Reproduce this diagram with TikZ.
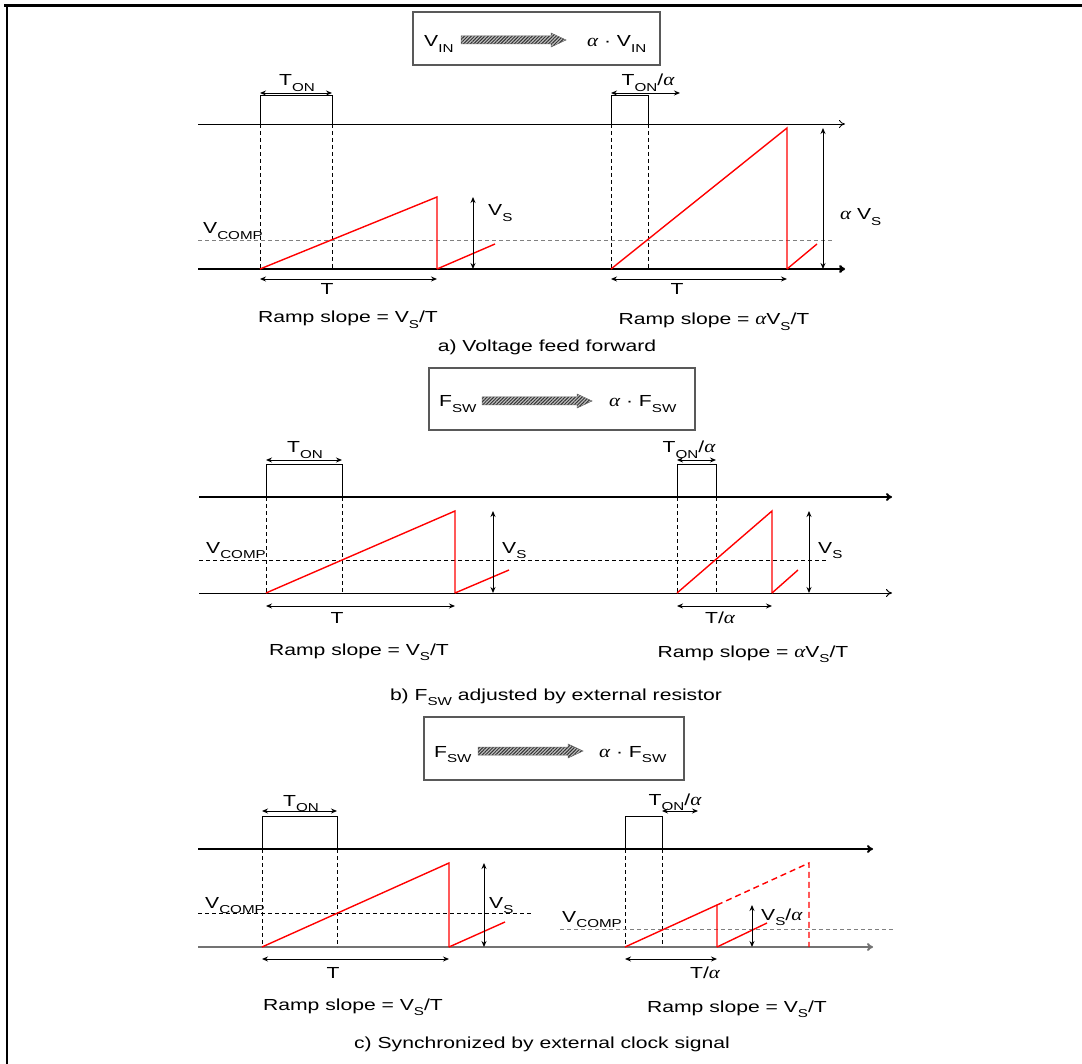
\documentclass[tikz,border=0pt]{standalone}
\usepackage{fontspec}
\setmainfont{Liberation Sans}[FakeStretch=1.32]
\newfontfamily\greekf{Liberation Serif}[FakeStretch=1.2]
\usetikzlibrary{arrows.meta,patterns.meta}
\newcommand\sbs[1]{\raisebox{-0.32em}{\fontsize{11.5}{12}\selectfont #1}}
\newcommand\alp{{\greekf\itshape\fontsize{17.5}{18}\selectfont α}}
\begin{document}
\begin{tikzpicture}[x=1pt,y=-1pt,
  txt/.style={font=\fontsize{16}{18}\selectfont, inner sep=0pt, anchor=base},
  txtw/.style={txt, anchor=base west},
  axisline/.style={-{To[length={6pt 0},width={8pt 0}]}, line width=1},
  dim/.style={{Stealth[length={6pt 0},width={5pt 0}]}-{Stealth[length={6pt 0},width={5pt 0}]}, line width=0.9},
  guide/.style={dash pattern=on 4pt off 3pt, line width=0.8},
  ramp/.style={red, line width=1.4},
  pulse/.style={line width=1},
  boxframe/.style={draw=black!65, line width=1.2},
  hatch/.style={draw=black!60, line width=0.5, preaction={fill=black!25},
     pattern={Lines[angle=45,distance=2.4pt,line width=1pt]}, pattern color=black!80}
]
\newcommand\hatcharrow[3]{\path[hatch] (#1,{#3-4}) -- ({#2-15},{#3-4}) -- ({#2-15},{#3-7}) -- (#2,#3) -- ({#2-15},{#3+7}) -- ({#2-15},{#3+4}) -- (#1,{#3+4}) -- cycle;}
\useasboundingbox (0,0) rectangle (1082,1064);
% outer frame
\draw[line width=3] (4,6) -- (1082,6);
\draw[line width=2] (7,6) -- (7,1064);

%================ panel a ================
\draw[boxframe] (413,12) rectangle (660,65);
\node[txtw] (ainl) at (424,47) {V\sbs{IN}};
\hatcharrow{461}{566}{40}
\node[txtw] (ainr) at (587,47) {\alp\ · V\sbs{IN}};

\draw[axisline, line width=0.8] (198,124) -- (845,124);
\draw[axisline, line width=2.5] (198,269) -- (845,269);
% left
\draw[pulse] (260,124) -- (260,96) -- (332,96) -- (332,124);
\draw[guide] (260,124) -- (260,269);
\draw[guide] (332,124) -- (332,269);
\draw[dim] (260,93) -- (332,93);
\draw[guide, gray] (198,240) -- (833,240);
\draw[ramp] (260,269) -- (437,197) -- (437,269);
\draw[ramp] (437,269) -- (495,244);
\draw[dim] (473,197) -- (473,269);
\draw[dim] (260,279) -- (437,279);
\node[txt] (aton) at (297,86) {T\sbs{ON}};
\node[txtw] (avc) at (203,234) {V\sbs{COMP}};
\node[txtw] (avs) at (488,216) {V\sbs{S}};
\node[txt] (at) at (327,295) {T};
\node[txt] (ars) at (348,323) {Ramp slope = V\sbs{S}/T};
% right
\draw[pulse] (611,124) -- (611,96) -- (648,96) -- (648,124);
\draw[guide] (611,124) -- (611,269);
\draw[guide] (648,124) -- (648,269);
\draw[dim] (611,93) -- (680,93);
\draw[ramp] (611,269) -- (787,128) -- (787,269);
\draw[ramp] (787,269) -- (817,244);
\draw[dim] (823,128) -- (823,269);
\draw[dim] (611,279) -- (787,279);
\node[txt] (atona) at (648,86) {T\sbs{ON}/\alp};
\node[txtw] (aavs) at (840,220) {\alp\ V\sbs{S}};
\node[txt] (at2) at (677,295) {T};
\node[txt] (ars2) at (714,325) {Ramp slope = \alp V\sbs{S}/T};
\node[txt] (acap) at (547,352) {a) Voltage feed forward};

%================ panel b ================
\draw[boxframe] (429,368) rectangle (695,430);
\node[txtw] (binl) at (439,407) {F\sbs{SW}};
\hatcharrow{482}{592}{401}
\node[txtw] (binr) at (609,407) {\alp\ · F\sbs{SW}};

\draw[axisline, line width=2] (199,497) -- (892,497);
\draw[axisline, line width=1] (199,593) -- (892,593);
% left
\draw[pulse] (266,497) -- (266,465) -- (342,465) -- (342,497);
\draw[guide] (266,497) -- (266,593);
\draw[guide] (342,497) -- (342,593);
\draw[dim] (266,460) -- (342,460);
\draw[guide] (199,560) -- (827,560);
\draw[ramp] (266,593) -- (455,511) -- (455,593);
\draw[ramp] (455,593) -- (509,570);
\draw[dim] (493,511) -- (493,593);
\draw[dim] (266,606) -- (455,606);
\node[txt] (bton) at (305,453) {T\sbs{ON}};
\node[txtw] (bvc) at (206,553) {V\sbs{COMP}};
\node[txtw] (bvs) at (502,553) {V\sbs{S}};
\node[txt] (bt) at (337,623) {T};
\node[txt] (brs) at (359,655) {Ramp slope = V\sbs{S}/T};
% right
\draw[pulse] (677,497) -- (677,465) -- (716,465) -- (716,497);
\draw[guide] (677,497) -- (677,593);
\draw[guide] (716,497) -- (716,593);
\draw[dim] (677,460) -- (716,460);
\draw[ramp] (677,593) -- (772,511) -- (772,593);
\draw[ramp] (772,593) -- (798,570);
\draw[dim] (809,511) -- (809,593);
\draw[dim] (677,606) -- (772,606);
\node[txt] (btona) at (689,453) {T\sbs{ON}/\alp};
\node[txtw] (bvs2) at (818,553) {V\sbs{S}};
\node[txt] (bt2) at (720,623) {T/\alp};
\node[txt] (brs2) at (753,657) {Ramp slope = \alp V\sbs{S}/T};
\node[txt] (bcap) at (556,700) {b) F\sbs{SW} adjusted by external resistor};

%================ panel c ================
\draw[boxframe] (424,717) rectangle (684,780);
\node[txtw] (cinl) at (434,757) {F\sbs{SW}};
\hatcharrow{478}{583}{751}
\node[txtw] (cinr) at (599,757) {\alp\ · F\sbs{SW}};

\draw[axisline, line width=2] (198,849) -- (873,849);
\draw[axisline, line width=2, draw=black!55] (198,947) -- (873,947);
% left
\draw[pulse] (262,849) -- (262,816) -- (337,816) -- (337,849);
\draw[guide] (262,849) -- (262,947);
\draw[guide] (337,849) -- (337,947);
\draw[dim] (262,811) -- (337,811);
\draw[guide] (198,913) -- (533,913);
\draw[ramp] (262,947) -- (449,863) -- (449,947);
\draw[ramp] (449,947) -- (505,922);
\draw[dim] (484,863) -- (484,947);
\draw[dim] (262,959) -- (449,959);
\node[txt] (cton) at (301,806) {T\sbs{ON}};
\node[txtw] (cvc) at (205,908) {V\sbs{COMP}};
\node[txtw] (cvs) at (489,908) {V\sbs{S}};
\node[txt] (ct) at (333,978) {T};
\node[txt] (crs) at (353,1010) {Ramp slope = V\sbs{S}/T};
% right
\draw[pulse] (625,849) -- (625,816) -- (662,816) -- (662,849);
\draw[guide] (625,849) -- (625,947);
\draw[guide] (662,849) -- (662,947);
\draw[dim] (662,811) -- (698,811);
\draw[guide, gray] (560,929) -- (895,929);
\draw[ramp] (625,947) -- (717,905) -- (717,947);
\draw[ramp, dash pattern=on 6pt off 4pt] (717,905) -- (809,863) -- (809,947);
\draw[ramp] (717,947) -- (767,923);
\draw[dim] (752,905) -- (752,947);
\draw[dim] (625,959) -- (717,959);
\node[txt] (ctona) at (675,805) {T\sbs{ON}/\alp};
\node[txtw] (cvc2) at (562,922) {V\sbs{COMP}};
\node[txtw] (cvsa) at (761,920) {V\sbs{S}/\alp};
\node[txt] (ct2) at (705,978) {T/\alp};
\node[txt] (crs2) at (737,1012) {Ramp slope = V\sbs{S}/T};
\node[txt] (ccap) at (542,1048) {c) Synchronized by external clock signal};
\end{tikzpicture}
\end{document}
